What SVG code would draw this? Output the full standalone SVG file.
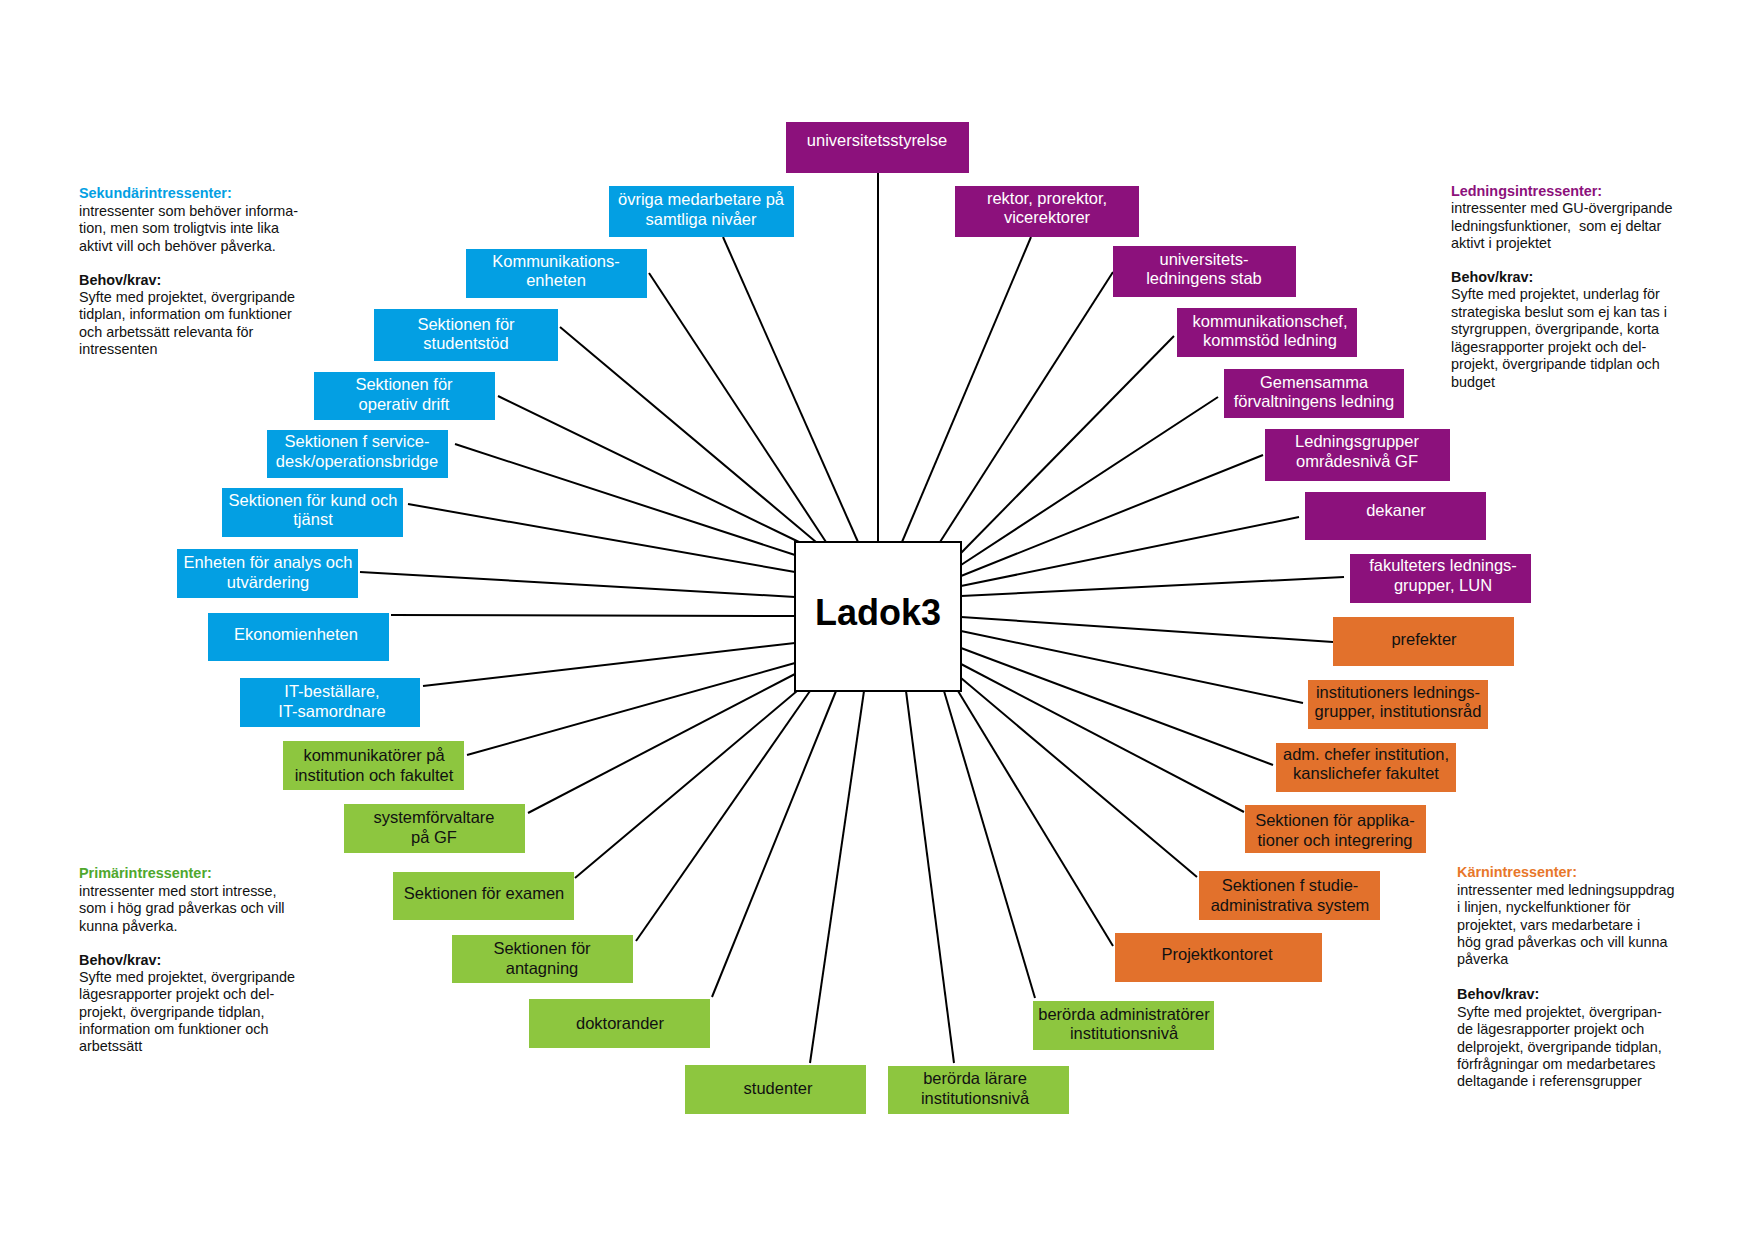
<svg xmlns="http://www.w3.org/2000/svg" width="1754" height="1241" viewBox="0 0 1754 1241">
<style>
text{font-family:"Liberation Sans",Arial,sans-serif}
.n text{font-size:16.5px;text-anchor:middle}
.b rect{fill:#039fe3}
.p rect{fill:#8c117c}
.o rect{fill:#e2712c}
.g rect{fill:#8dc63f}
.b text,.p text{fill:#ffffff}
.o text,.g text{fill:#111111}
#connectors line{stroke:#000;stroke-width:2}
.info{font-size:14.4px;fill:#111}
.info .h{font-weight:bold}
</style>
<rect width="1754" height="1241" fill="#ffffff"/>
<g id="connectors">
<line x1="878" y1="173" x2="878" y2="542"/>
<line x1="723" y1="237" x2="858" y2="542"/>
<line x1="1031" y1="237" x2="902" y2="542"/>
<line x1="649" y1="273" x2="826" y2="542"/>
<line x1="1113" y1="272" x2="940" y2="542"/>
<line x1="560" y1="327" x2="816" y2="542"/>
<line x1="1174" y1="336" x2="961" y2="553"/>
<line x1="498" y1="396" x2="799" y2="542"/>
<line x1="1218" y1="397" x2="961" y2="565"/>
<line x1="455" y1="444" x2="795" y2="555"/>
<line x1="1263" y1="455" x2="961" y2="576"/>
<line x1="408" y1="504" x2="795" y2="572"/>
<line x1="1299" y1="517" x2="961" y2="586"/>
<line x1="360" y1="572" x2="795" y2="597"/>
<line x1="1344" y1="577" x2="961" y2="596"/>
<line x1="391" y1="615" x2="795" y2="616"/>
<line x1="1333" y1="642" x2="961" y2="617"/>
<line x1="423" y1="686" x2="795" y2="643"/>
<line x1="1303" y1="703" x2="961" y2="631"/>
<line x1="467" y1="755" x2="795" y2="663"/>
<line x1="1273" y1="765" x2="961" y2="648"/>
<line x1="528" y1="813" x2="795" y2="674"/>
<line x1="1244" y1="812" x2="961" y2="664"/>
<line x1="575" y1="878" x2="797" y2="691"/>
<line x1="1197" y1="877" x2="961" y2="678"/>
<line x1="636" y1="941" x2="810" y2="691"/>
<line x1="1113" y1="946" x2="958" y2="691"/>
<line x1="712" y1="997" x2="836" y2="691"/>
<line x1="1035" y1="998" x2="944" y2="691"/>
<line x1="810" y1="1063" x2="864" y2="691"/>
<line x1="954" y1="1063" x2="906" y2="691"/>
</g>
<g id="ladok3">
<rect x="795" y="542" width="166" height="149" fill="#ffffff" stroke="#000" stroke-width="2"/>
<text x="878" y="625" font-size="36" font-weight="bold" text-anchor="middle" fill="#000">Ladok3</text>
</g>
<g id="n1" class="n p"><rect x="786" y="122" width="183" height="51"/><text x="877" y="146">universitetsstyrelse</text></g>
<g id="n2" class="n b"><rect x="609" y="186" width="185" height="51"/><text x="701" y="205">övriga medarbetare på</text><text x="701" y="225">samtliga nivåer</text></g>
<g id="n3" class="n p"><rect x="955" y="186" width="184" height="51"/><text x="1047" y="204">rektor, prorektor,</text><text x="1047" y="223">vicerektorer</text></g>
<g id="n4" class="n b"><rect x="466" y="249" width="181" height="49"/><text x="556" y="267">Kommunikations-</text><text x="556" y="286">enheten</text></g>
<g id="n5" class="n p"><rect x="1113" y="246" width="183" height="51"/><text x="1204" y="265">universitets-</text><text x="1204" y="284">ledningens stab</text></g>
<g id="n6" class="n b"><rect x="374" y="309" width="184" height="52"/><text x="466" y="330">Sektionen för</text><text x="466" y="349">studentstöd</text></g>
<g id="n7" class="n p"><rect x="1177" y="308" width="180" height="49"/><text x="1270" y="327">kommunikationschef,</text><text x="1270" y="346">kommstöd ledning</text></g>
<g id="n8" class="n b"><rect x="314" y="372" width="181" height="48"/><text x="404" y="390">Sektionen för</text><text x="404" y="410">operativ drift</text></g>
<g id="n9" class="n p"><rect x="1224" y="369" width="180" height="49"/><text x="1314" y="388">Gemensamma</text><text x="1314" y="407">förvaltningens ledning</text></g>
<g id="n10" class="n b"><rect x="267" y="430" width="181" height="48"/><text x="357" y="447">Sektionen f service-</text><text x="357" y="467">desk/operationsbridge</text></g>
<g id="n11" class="n p"><rect x="1265" y="429" width="185" height="52"/><text x="1357" y="447">Ledningsgrupper</text><text x="1357" y="467">områdesnivå GF</text></g>
<g id="n12" class="n b"><rect x="222" y="488" width="181" height="49"/><text x="313" y="506">Sektionen för kund och</text><text x="313" y="525">tjänst</text></g>
<g id="n13" class="n p"><rect x="1305" y="492" width="181" height="48"/><text x="1396" y="516">dekaner</text></g>
<g id="n14" class="n b"><rect x="177" y="549" width="181" height="49"/><text x="268" y="568">Enheten för analys och</text><text x="268" y="588">utvärdering</text></g>
<g id="n15" class="n p"><rect x="1350" y="554" width="181" height="49"/><text x="1443" y="571">fakulteters lednings-</text><text x="1443" y="591">grupper, LUN</text></g>
<g id="n16" class="n b"><rect x="208" y="613" width="181" height="48"/><text x="296" y="640">Ekonomienheten</text></g>
<g id="n17" class="n o"><rect x="1333" y="617" width="181" height="49"/><text x="1424" y="645">prefekter</text></g>
<g id="n18" class="n b"><rect x="240" y="678" width="180" height="49"/><text x="332" y="697">IT-beställare,</text><text x="332" y="717">IT-samordnare</text></g>
<g id="n19" class="n o"><rect x="1308" y="680" width="180" height="49"/><text x="1398" y="698">institutioners lednings-</text><text x="1398" y="717">grupper, institutionsråd</text></g>
<g id="n20" class="n g"><rect x="283" y="741" width="181" height="49"/><text x="374" y="761">kommunikatörer på</text><text x="374" y="781">institution och fakultet</text></g>
<g id="n21" class="n o"><rect x="1276" y="743" width="180" height="49"/><text x="1366" y="760">adm. chefer institution,</text><text x="1366" y="779">kanslichefer fakultet</text></g>
<g id="n22" class="n g"><rect x="344" y="804" width="181" height="49"/><text x="434" y="823">systemförvaltare</text><text x="434" y="843">på GF</text></g>
<g id="n23" class="n o"><rect x="1245" y="805" width="181" height="48"/><text x="1335" y="826">Sektionen för applika-</text><text x="1335" y="846">tioner och integrering</text></g>
<g id="n24" class="n g"><rect x="393" y="872" width="181" height="48"/><text x="484" y="899">Sektionen för examen</text></g>
<g id="n25" class="n o"><rect x="1199" y="871" width="181" height="49"/><text x="1290" y="891">Sektionen f studie-</text><text x="1290" y="911">administrativa system</text></g>
<g id="n26" class="n g"><rect x="452" y="935" width="181" height="48"/><text x="542" y="954">Sektionen för</text><text x="542" y="974">antagning</text></g>
<g id="n27" class="n o"><rect x="1115" y="933" width="207" height="49"/><text x="1217" y="960">Projektkontoret</text></g>
<g id="n28" class="n g"><rect x="529" y="999" width="181" height="49"/><text x="620" y="1029">doktorander</text></g>
<g id="n29" class="n g"><rect x="1033" y="1001" width="181" height="49"/><text x="1124" y="1020">berörda administratörer</text><text x="1124" y="1039">institutionsnivå</text></g>
<g id="n30" class="n g"><rect x="685" y="1065" width="181" height="49"/><text x="778" y="1094">studenter</text></g>
<g id="n31" class="n g"><rect x="888" y="1066" width="181" height="48"/><text x="975" y="1084">berörda lärare</text><text x="975" y="1104">institutionsnivå</text></g>
<g id="info-sekundar" class="info">
<text x="79" y="198" class="h" fill="#039fe3">Sekundärintressenter:</text>
<text x="79" y="216">intressenter som behöver informa-</text>
<text x="79" y="233">tion, men som troligtvis inte lika</text>
<text x="79" y="251">aktivt vill och behöver påverka.</text>
<text x="79" y="285" class="h">Behov/krav:</text>
<text x="79" y="302">Syfte med projektet, övergripande</text>
<text x="79" y="319">tidplan, information om funktioner</text>
<text x="79" y="337">och arbetssätt relevanta för</text>
<text x="79" y="354">intressenten</text>
</g>
<g id="info-lednings" class="info">
<text x="1451" y="196" class="h" fill="#8c117c">Ledningsintressenter:</text>
<text x="1451" y="213">intressenter med GU-övergripande</text>
<text x="1451" y="231" xml:space="preserve">ledningsfunktioner,  som ej deltar</text>
<text x="1451" y="248">aktivt i projektet</text>
<text x="1451" y="282" class="h">Behov/krav:</text>
<text x="1451" y="299">Syfte med projektet, underlag för</text>
<text x="1451" y="317">strategiska beslut som ej kan tas i</text>
<text x="1451" y="334">styrgruppen, övergripande, korta</text>
<text x="1451" y="352">lägesrapporter projekt och del-</text>
<text x="1451" y="369">projekt, övergripande tidplan och</text>
<text x="1451" y="387">budget</text>
</g>
<g id="info-primar" class="info">
<text x="79" y="878" class="h" fill="#4fa82e">Primärintressenter:</text>
<text x="79" y="896">intressenter med stort intresse,</text>
<text x="79" y="913">som i hög grad påverkas och vill</text>
<text x="79" y="931">kunna påverka.</text>
<text x="79" y="965" class="h">Behov/krav:</text>
<text x="79" y="982">Syfte med projektet, övergripande</text>
<text x="79" y="999">lägesrapporter projekt och del-</text>
<text x="79" y="1017">projekt, övergripande tidplan,</text>
<text x="79" y="1034">information om funktioner och</text>
<text x="79" y="1051">arbetssätt</text>
</g>
<g id="info-karn" class="info">
<text x="1457" y="877" class="h" fill="#e8772a">Kärnintressenter:</text>
<text x="1457" y="895">intressenter med ledningsuppdrag</text>
<text x="1457" y="912">i linjen, nyckelfunktioner för</text>
<text x="1457" y="930">projektet, vars medarbetare i</text>
<text x="1457" y="947">hög grad påverkas och vill kunna</text>
<text x="1457" y="964">påverka</text>
<text x="1457" y="999" class="h">Behov/krav:</text>
<text x="1457" y="1017">Syfte med projektet, övergripan-</text>
<text x="1457" y="1034">de lägesrapporter projekt och</text>
<text x="1457" y="1052">delprojekt, övergripande tidplan,</text>
<text x="1457" y="1069">förfrågningar om medarbetares</text>
<text x="1457" y="1086">deltagande i referensgrupper</text>
</g>
</svg>
